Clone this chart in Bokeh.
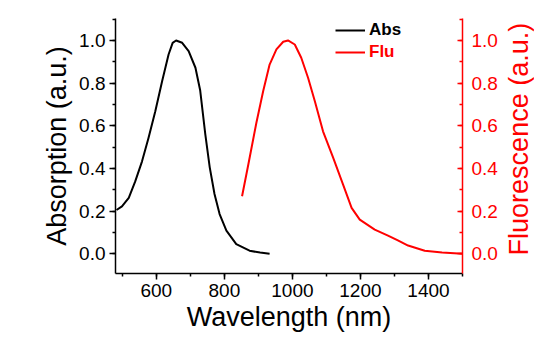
import math
from bokeh.plotting import figure
from bokeh.layouts import row
from bokeh.models import (LinearAxis, Range1d, SingleIntervalTicker, Legend, LegendItem,
                          NumeralTickFormatter, Label)
from bokeh.embed import file_html
from bokeh.resources import INLINE

# Absorption spectrum
abs_nm = [483, 499, 519, 538, 558, 577, 597, 617, 636, 648, 658, 676, 695, 715, 729, 744,
          757, 771, 786, 806, 835, 874, 905, 933]
abs_val = [0.205, 0.222, 0.262, 0.339, 0.433, 0.543, 0.668, 0.809, 0.934, 0.989, 1.0, 0.989,
           0.95, 0.872, 0.765, 0.56, 0.405, 0.28, 0.186, 0.108, 0.045, 0.014, 0.005, 0.0]

# Fluorescence spectrum
flu_nm = [852, 870, 894, 914, 933, 953, 973, 987, 1007, 1026, 1046, 1066, 1090, 1120, 1149,
          1174, 1198, 1242, 1281, 1310, 1340, 1389, 1440, 1500]
flu_val = [0.269, 0.415, 0.613, 0.762, 0.887, 0.958, 0.994, 1.0, 0.981, 0.919, 0.825, 0.715,
           0.574, 0.449, 0.324, 0.215, 0.16, 0.113, 0.085, 0.062, 0.038, 0.014, 0.006, 0.0]

x_title = "Wavelength (nm)"
yl_title = "Absorption (a.u.)"
yr_title = "Fluorescence (a.u.)"

RED = "#ff0000"
FONT = "Liberation Sans"

p = figure(width=506, height=351, output_backend="svg", toolbar_location=None,
           x_range=Range1d(480, 1500), y_range=Range1d(-0.093, 1.103),
           min_border_left=115, min_border_right=44, min_border_top=18, min_border_bottom=78,
           x_axis_label=x_title, y_axis_label=yl_title)
p.extra_y_ranges = {"flu": Range1d(-0.093, 1.103)}
p.outline_line_color = None
p.background_fill_color = "white"
p.border_fill_color = "white"
p.xgrid.visible = False
p.ygrid.visible = False

r_abs = p.line(abs_nm, abs_val, line_color="black", line_width=2, line_join="round")
r_flu = p.line(flu_nm, flu_val, line_color=RED, line_width=2, line_join="round",
               y_range_name="flu")

xa = p.xaxis[0]
xa.ticker = SingleIntervalTicker(interval=200, num_minor_ticks=2)
ya = p.yaxis[0]
ya.ticker = SingleIntervalTicker(interval=0.2, num_minor_ticks=2)
ya.formatter = NumeralTickFormatter(format="0.0")
ra = LinearAxis(y_range_name="flu",
                ticker=SingleIntervalTicker(interval=0.2, num_minor_ticks=2),
                formatter=NumeralTickFormatter(format="0.0"))
p.add_layout(ra, "right")

for ax in (xa, ya):
    ax.axis_line_width = 1.5
    ax.major_tick_line_width = 1.5
    ax.minor_tick_line_width = 1.5
    ax.major_tick_out = 6
    ax.major_tick_in = 0
    ax.minor_tick_out = 3
    ax.minor_tick_in = 0
    ax.major_label_text_font = FONT
    ax.major_label_text_font_size = "19px"
    ax.major_label_text_color = "black"
    ax.axis_label_text_font = FONT
    ax.axis_label_text_font_size = "27px"
    ax.axis_label_text_font_style = "normal"
    ax.axis_label_text_color = "black"

ya.major_label_standoff = 4
ya.axis_label_standoff = 4
xa.major_label_standoff = 4
xa.axis_label_standoff = 2

ra.axis_line_color = RED
ra.major_tick_line_color = RED
ra.minor_tick_line_color = RED
ra.axis_line_width = 1.5
ra.major_tick_line_width = 1.5
ra.minor_tick_line_width = 1.5
ra.major_tick_in = 5
ra.major_tick_out = 0
ra.minor_tick_in = 3
ra.minor_tick_out = 0
ra.major_label_text_font = FONT
ra.major_label_text_font_size = "19px"
ra.major_label_text_color = RED
ra.major_label_standoff = 9

def make_legend(item_label, renderer, color, loc):
    lg = Legend(items=[LegendItem(label=item_label, renderers=[renderer])],
                location=loc, border_line_color=None, background_fill_alpha=0,
                padding=0, margin=0, spacing=0, glyph_width=30, glyph_height=18,
                label_height=18, label_standoff=4,
                label_text_font=FONT, label_text_font_size="17px",
                label_text_font_style="bold", label_text_color=color)
    p.add_layout(lg, "center")

make_legend("Abs", r_abs, "black", (220, 233))
make_legend("Flu", r_flu, RED, (220, 211))

# narrow strip on the right holding the right-axis title (reads bottom to top)
p2 = figure(width=28, height=351, output_backend="svg", toolbar_location=None,
            x_axis_location=None, y_axis_location=None,
            x_range=Range1d(0, 1), y_range=Range1d(0, 1),
            min_border=0, min_border_left=0, min_border_right=0,
            min_border_top=0, min_border_bottom=0)
p2.outline_line_color = None
p2.xgrid.visible = False
p2.ygrid.visible = False
p2.background_fill_color = "white"
p2.border_fill_color = "white"
p2.add_layout(Label(x=0.43, y=0.527, text=yr_title, angle=math.pi / 2,
                    text_align="center", text_baseline="middle",
                    text_font=FONT, text_font_size="27px", text_color=RED))

layout = row(p, p2, spacing=0)
open("out.html", "w").write(file_html(layout, INLINE))
